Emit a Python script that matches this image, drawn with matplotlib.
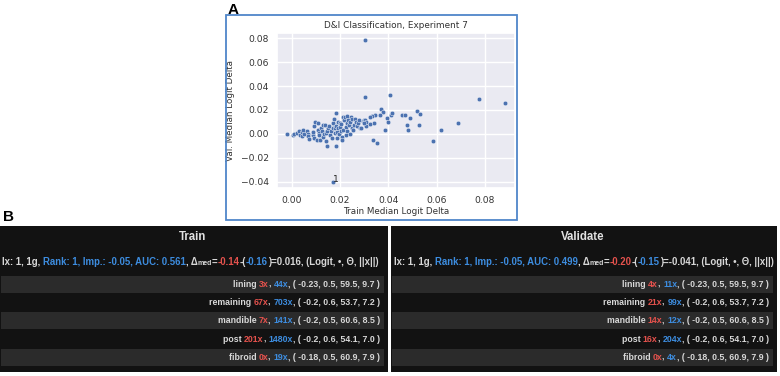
import matplotlib
matplotlib.use("Agg")
import matplotlib.pyplot as plt
import seaborn as sns
from matplotlib.patches import Rectangle
from matplotlib.ticker import FuncFormatter

# ---------------- Panel A data ----------------
train_delta = [
    -0.0021, 0.0004, 0.0011, 0.0023, 0.0030, 0.0034, 0.0041, 0.0048, 0.0044, 0.0051,
    0.0065, 0.0068, 0.0069, 0.0073, 0.0087, 0.0090, 0.0092, 0.0097, 0.0094, 0.0103,
    0.0108, 0.0110, 0.0112, 0.0114, 0.0117, 0.0120, 0.0124, 0.0128, 0.0131, 0.0134,
    0.0138, 0.0141, 0.0142, 0.0145, 0.0148, 0.0152, 0.0156, 0.0159, 0.0161, 0.0166,
    0.0170, 0.0172, 0.0177, 0.0179, 0.0178, 0.0182, 0.0182, 0.0183, 0.0186, 0.0189,
    0.0192, 0.0193, 0.0197, 0.0200, 0.0200, 0.0203, 0.0206, 0.0207, 0.0210, 0.0211,
    0.0214, 0.0217, 0.0219, 0.0223, 0.0225, 0.0228, 0.0228, 0.0230, 0.0234, 0.0237,
    0.0240, 0.0241, 0.0246, 0.0248, 0.0251, 0.0255, 0.0258, 0.0261, 0.0265, 0.0269,
    0.0273, 0.0280, 0.0283, 0.0288, 0.0294, 0.0299, 0.0305, 0.0306, 0.0306, 0.0301,
    0.0303, 0.0305, 0.0406, 0.0777, 0.0883, 0.0690, 0.0619, 0.0586, 0.0517, 0.0530,
    0.0528, 0.0488, 0.0457, 0.0470, 0.0476, 0.0481, 0.0410, 0.0415, 0.0370, 0.0377,
    0.0366, 0.0393, 0.0397, 0.0388, 0.0335, 0.0352, 0.0345, 0.0334, 0.0324, 0.0340,
    0.0326, 0.0172,
]
val_delta = [
    0.0000, -0.0006, 0.0003, 0.0008, 0.0025, -0.0008, 0.0014, 0.0036, -0.0022, -0.0003,
    0.0028, 0.0003, -0.0020, -0.0039, -0.0008, 0.0014, 0.0064, 0.0098, -0.0031, -0.0053,
    0.0031, 0.0087, 0.0008, -0.0011, -0.0053, 0.0050, 0.0025, 0.0078, -0.0025, -0.0003,
    0.0073, 0.0008, -0.0059, 0.0022, -0.0098, 0.0045, 0.0064, -0.0011, 0.0020, -0.0036,
    0.0053, 0.0087, 0.0126, 0.0011, 0.0048, -0.0098, 0.0171, 0.0067, -0.0031, 0.0017,
    0.0045, 0.0101, -0.0003, 0.0059, 0.0087, 0.0020, 0.0081, -0.0025, -0.0048, 0.0143,
    0.0036, 0.0115, 0.0140, -0.0011, 0.0059, 0.0095, 0.0148, 0.0025, 0.0120, 0.0070,
    0.0003, 0.0101, 0.0145, 0.0126, 0.0045, 0.0036, 0.0073, 0.0126, 0.0098, 0.0064,
    0.0087, 0.0115, 0.0048, 0.0050, 0.0106, 0.0115, 0.0120, 0.0098, 0.0062, 0.0087,
    0.0789, 0.0310, 0.0325, 0.0294, 0.0257, 0.0095, 0.0030, -0.0056, 0.0193, 0.0170,
    0.0070, 0.0131, 0.0162, 0.0162, 0.0070, 0.0030, 0.0160, 0.0173, 0.0210, 0.0185,
    0.0160, 0.0134, 0.0103, 0.0030, -0.0048, -0.0075, 0.0157, 0.0148, 0.0143, 0.0092,
    0.0081, -0.0403,
]
annot_label = "1"
annot_pos = (0.0181, -0.0383)
x_ticks = [0.00, 0.02, 0.04, 0.06, 0.08]
y_ticks = [-0.04, -0.02, 0.00, 0.02, 0.04, 0.06, 0.08]
title_a = "D&I Classification, Experiment 7"
xlabel_a = "Train Median Logit Delta"
ylabel_a = "Val. Median Logit Delta"

# ---------------- Panel B data ----------------
features = ["lining", "remaining", "mandible", "post", "fibroid"]
train_red = [3, 67, 7, 201, 0]
train_blue = [44, 703, 141, 1480, 19]
val_red = [4, 21, 14, 16, 0]
val_blue = [11, 99, 12, 204, 4]
feat_stats = ["( -0.23, 0.5, 59.5, 9.7 )", "( -0.2, 0.6, 53.7, 7.2 )",
              "( -0.2, 0.5, 60.6, 8.5 )", "( -0.2, 0.6, 54.1, 7.0 )",
              "( -0.18, 0.5, 60.9, 7.9 )"]
panel_titles = ["Train", "Validate"]
aucs = ["0.561", "0.499"]
med_a = ["-0.14", "-0.20"]
med_b = ["-0.16", "-0.15"]
med_diff = ["0.016", "-0.041"]

# ---------------- Figure ----------------
sns.set_theme(style="darkgrid")
plt.rcParams["font.family"] = ["DejaVu Sans"]
FW, FH = 780, 376
fig = plt.figure(figsize=(7.8, 3.76), dpi=100)

def fig_rect(x0, y0, x1, y1):
    return [x0 / FW, 1 - y1 / FH, (x1 - x0) / FW, (y1 - y0) / FH]

# blue frame around panel A
fig.patches.append(Rectangle((226 / FW, 1 - 220 / FH), 291 / FW, 205 / FH,
                             transform=fig.transFigure, fill=False,
                             edgecolor="#4f86c9", linewidth=1.3))

ax = fig.add_axes(fig_rect(276.7, 33, 515, 188))
sns.scatterplot(x=train_delta, y=val_delta, ax=ax, s=11, color="#4C72B0",
                edgecolor="white", linewidth=0.3)
ax.set_xlim(-0.0062, 0.0924)
ax.set_ylim(-0.0453, 0.0844)
ax.set_xticks(x_ticks)
ax.set_yticks(y_ticks)
fmt = FuncFormatter(lambda v, _: f"{v:.2f}".replace("-", "\u2212"))
ax.xaxis.set_major_formatter(fmt)
ax.yaxis.set_major_formatter(fmt)
ax.tick_params(axis="both", labelsize=6.6, length=0, colors=".2")
ax.tick_params(axis="x", pad=5.5)
ax.tick_params(axis="y", pad=5.8)
ax.set_xlabel(xlabel_a, fontsize=6.3, labelpad=1.5, color=".2")
ax.set_ylabel(ylabel_a, fontsize=6.3, labelpad=4, color=".2")
ax.set_title(title_a, fontsize=6.4, pad=3.5, color=".2")
ax.text(annot_pos[0], annot_pos[1], annot_label, fontsize=6.5, ha="center",
        va="center", color=".15")

fig.text(233.5 / FW, 1 - 9.5 / FH, "A", fontsize=11, fontweight="bold",
         family="Liberation Sans", ha="center", va="center", color="black")
fig.text(8 / FW, 1 - 217 / FH, "B", fontsize=11, fontweight="bold",
         family="Liberation Sans", ha="center", va="center", color="black")

# ---------------- Panel B tables ----------------
TFONT = "Liberation Sans"
WHITE = "#d8d8d8"
RED = "#e5524d"
BLUE = "#3d8de0"
BG = "#121212"
GREY = "#2b2b2b"
renderer = fig.canvas.get_renderer()

def width_of(ax_, txt, size):
    t = ax_.text(0, 0, txt, fontsize=size, fontweight="bold", family=TFONT)
    w = t.get_window_extent(renderer).width
    t.remove()
    return w

def adv(ax_, txt, size):
    # advance width incl. trailing spaces
    return width_of(ax_, "|" + txt + "|", size) - width_of(ax_, "||", size)

def draw_segments(ax_, segs, x, y, ha="left", size=6.3):
    norm = []
    for seg in segs:
        txt, col = seg[0], seg[1]
        sz = seg[2] if len(seg) > 2 else size
        dy = seg[3] if len(seg) > 3 else 0
        norm.append((txt, col, sz, dy))
    runs = []
    for it in norm:
        if runs and runs[-1][0][2] == it[2] and runs[-1][0][3] == it[3]:
            runs[-1].append(it)
        else:
            runs.append([it])
    placed = []
    cur = 0.0
    for run in runs:
        prefix = ""
        sz = run[0][2]
        for txt, col, s, dy in run:
            off = adv(ax_, prefix, sz) if prefix else 0.0
            placed.append((cur + off, txt, col, s, dy))
            prefix += txt
        cur += adv(ax_, prefix, sz)
    start = x - cur if ha == "right" else x
    for off, txt, col, s, dy in placed:
        ax_.text(start + off, y + dy, txt, color=col, fontsize=s,
                 fontweight="bold", family=TFONT, ha="left", va="center")

panels = [(0, 388, train_red, train_blue, 0), (391, 777, val_red, val_blue, 1)]
top, bottom = 226, 372
for x0, x1, reds, blues, k in panels:
    pw, ph = x1 - x0, bottom - top
    tax = fig.add_axes(fig_rect(x0, top, x1, bottom))
    tax.set_xlim(0, pw)
    tax.set_ylim(ph, 0)
    tax.axis("off")
    tax.add_patch(Rectangle((0, 0), pw, ph, facecolor=BG, edgecolor="none"))
    tax.text(pw / 2 - 1, 10.5, panel_titles[k], fontsize=8.3, fontweight="bold",
             family=TFONT, color="#e2e2e2", ha="center", va="center")
    segs = [
        ("Ix: 1, 1g, ", WHITE),
        (f"Rank: 1, Imp.: -0.05, AUC: {aucs[k]}", BLUE),
        (", \u0394", WHITE),
        ("med", WHITE, 5.0, 1.8),
        ("=", WHITE),
        (med_a[k], RED),
        ("-(", WHITE),
        (med_b[k], BLUE),
        (f")={med_diff[k]}, (Logit, \u2022, \u0398, ||x||)", WHITE),
    ]
    draw_segments(tax, segs, 2 + k, 36, ha="left", size=6.95)
    row_top0, row_h = 49, 18.3
    for i, feat in enumerate(features):
        rt = row_top0 + i * row_h
        if i % 2 == 0:
            tax.add_patch(Rectangle((1, rt + 0.5), pw - 5, row_h - 1,
                                    facecolor=GREY, edgecolor="none"))
        rsegs = [
            (f"{feat} ", WHITE),
            (f"{reds[i]}x", RED),
            (", ", WHITE),
            (f"{blues[i]}x", BLUE),
            (f", {feat_stats[i]}", WHITE),
        ]
        draw_segments(tax, rsegs, pw - 8, rt + row_h / 2, ha="right", size=6.3)

fig.savefig("out.png", dpi=100)
